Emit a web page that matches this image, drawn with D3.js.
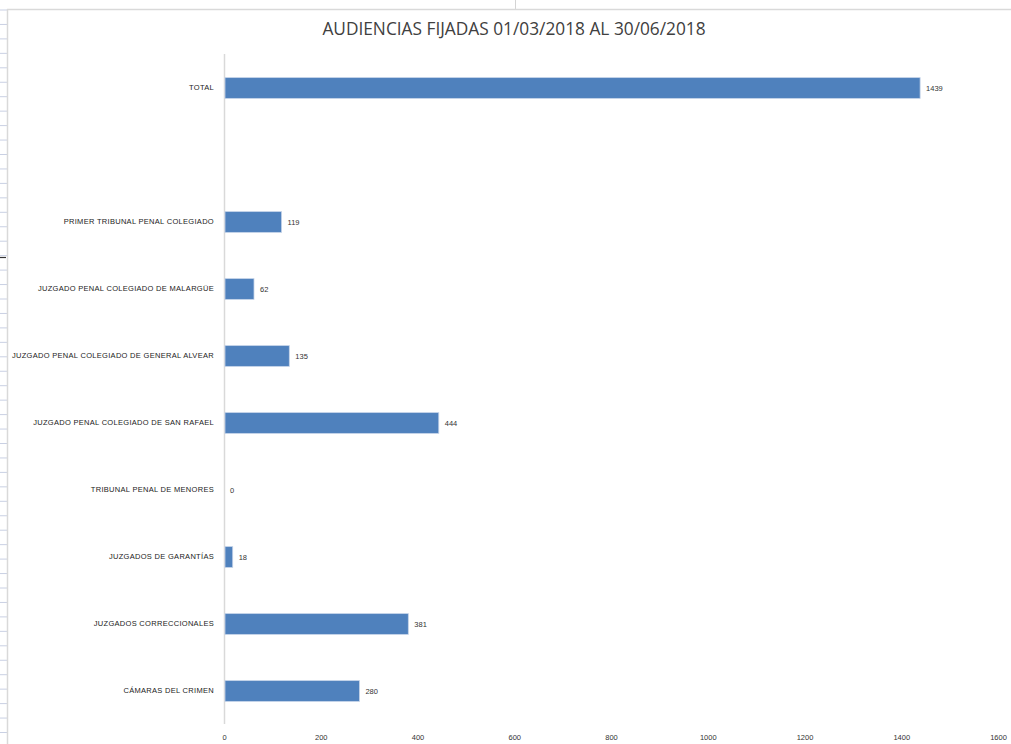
<!DOCTYPE html>
<html>
<head>
<meta charset="utf-8">
<script src="https://cdn.jsdelivr.net/npm/d3@7"></script>
<style>
  html, body { margin: 0; padding: 0; background: #fff; }
  svg { display: block; }
</style>
</head>
<body>
<svg id="chart" width="1011" height="744"></svg>
<script>
const categories = [
  "TOTAL",
  "",
  "PRIMER TRIBUNAL PENAL COLEGIADO",
  "JUZGADO PENAL COLEGIADO DE MALARGÜE",
  "JUZGADO PENAL COLEGIADO DE GENERAL ALVEAR",
  "JUZGADO PENAL COLEGIADO DE SAN RAFAEL",
  "TRIBUNAL PENAL DE MENORES",
  "JUZGADOS DE GARANTÍAS",
  "JUZGADOS CORRECCIONALES",
  "CÁMARAS DEL CRIMEN"
];
const values = [1439, null, 119, 62, 135, 444, 0, 18, 381, 280];
const xTicks = [0, 200, 400, 600, 800, 1000, 1200, 1400, 1600];
const title = "AUDIENCIAS FIJADAS 01/03/2018 AL 30/06/2018";

const svg = d3.select("#chart");
const W = 1011, H = 744;

// spreadsheet background decoration
const deco = svg.append("g");
const rowLines = d3.range(10, H, 14.45);
deco.selectAll("line.row").data(rowLines).join("line")
  .attr("x1", 0).attr("x2", 7).attr("y1", d => d).attr("y2", d => d)
  .attr("stroke", "#c9d0e3").attr("stroke-width", 1);
deco.append("line").attr("x1", 515.5).attr("x2", 515.5).attr("y1", 0).attr("y2", 9)
  .attr("stroke", "#d4d4d4");
deco.append("line").attr("x1", 7.5).attr("x2", 7.5).attr("y1", 9).attr("y2", H)
  .attr("stroke", "#d9d9d9").attr("stroke-width", 1.5);
deco.append("line").attr("x1", 7).attr("x2", W).attr("y1", 9.5).attr("y2", 9.5)
  .attr("stroke", "#d9d9d9").attr("stroke-width", 1.5);
deco.append("line").attr("x1", 0).attr("x2", 6).attr("y1", 257.5).attr("y2", 257.5)
  .attr("stroke", "#333").attr("stroke-width", 1.2);

// title
svg.append("text")
  .attr("x", 514).attr("y", 35)
  .attr("text-anchor", "middle")
  .attr("font-family", "'Open Sans', 'Liberation Sans', sans-serif")
  .attr("font-size", 17.3)
  .attr("fill", "#404040")
  .text(title);

const x = d3.scaleLinear().domain([0, 1600]).range([224, 998]);
const y = d3.scaleBand().domain(categories.map((c, i) => i)).range([54.5, 724.5]).paddingInner(0.69).paddingOuter(0.345);

// axis baseline (vertical)
svg.append("line")
  .attr("x1", x(0) + 0.5).attr("x2", x(0) + 0.5)
  .attr("y1", 54).attr("y2", 724)
  .attr("stroke", "#d9d9d9").attr("stroke-width", 1.5);

// x tick labels
const xAxis = d3.axisBottom(x).tickValues(xTicks).tickFormat(d3.format("d")).tickSize(0).tickPadding(0);
const gx = svg.append("g").attr("transform", "translate(0,733)").call(xAxis);
gx.select(".domain").remove();
gx.selectAll("text")
  .attr("font-family", "'Liberation Sans', Arial, sans-serif")
  .attr("font-size", 7.5)
  .attr("fill", "#333")
  .attr("dy", "0.35em")
  .attr("y", 4);

// y category labels
const yAxis = d3.axisLeft(y).tickFormat(i => categories[i]).tickSize(0).tickPadding(10);
const gy = svg.append("g").attr("transform", `translate(${x(0)},0)`).call(yAxis);
gy.select(".domain").remove();
gy.selectAll("text")
  .attr("font-family", "'Liberation Sans', Arial, sans-serif")
  .attr("font-size", 7.5)
  .attr("fill", "#222")
  .attr("letter-spacing", 0.3);

// bars
const data = categories.map((c, i) => ({i, c, v: values[i]})).filter(d => d.v !== null);
svg.append("g").selectAll("rect").data(data).join("rect")
  .attr("x", x(0) + 1)
  .attr("y", d => y(d.i))
  .attr("width", d => Math.max(0, x(d.v) - x(0) - 1))
  .attr("height", y.bandwidth())
  .attr("fill", "#4f81bd")
  .attr("stroke", d => d.v > 0 ? "#c5d3e8" : "none")
  .attr("stroke-width", 0.8);

// value labels
svg.append("g").selectAll("text").data(data).join("text")
  .attr("x", d => x(d.v) + 6)
  .attr("y", d => y(d.i) + y.bandwidth() / 2)
  .attr("dy", "0.35em")
  .attr("font-family", "'Liberation Sans', Arial, sans-serif")
  .attr("font-size", 7.5)
  .attr("fill", "#333")
  .text(d => d.v);
</script>
</body>
</html>
